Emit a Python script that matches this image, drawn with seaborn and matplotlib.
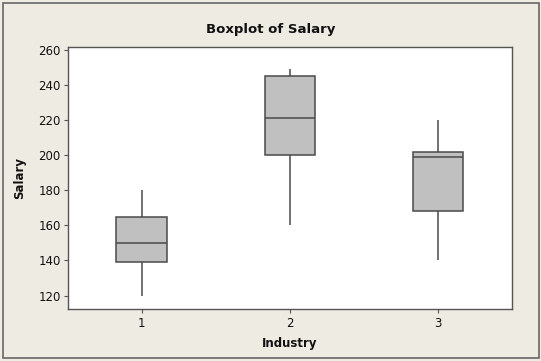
import matplotlib
matplotlib.use("Agg")
import matplotlib.pyplot as plt
import seaborn as sns
import pandas as pd
from matplotlib.patches import Rectangle

sns.set_theme(style="white")
plt.rcParams['font.family'] = ['DejaVu Sans']

# five-number summaries (min, Q1, median, Q3, max)
industries = ["1", "2", "3"]
salary_1 = [120, 139, 150, 165, 180]
salary_2 = [160, 200, 221, 245, 249]
salary_3 = [140, 168, 199, 202, 220]
y_ticks = [120, 140, 160, 180, 200, 220, 240, 260]

df = pd.DataFrame({
    "Industry": [industries[0]] * len(salary_1) + [industries[1]] * len(salary_2) + [industries[2]] * len(salary_3),
    "Salary": salary_1 + salary_2 + salary_3,
})

bg = '#EEEBE3'
edge = '#4A4A4A'

fig = plt.figure(figsize=(5.41, 3.61), dpi=100, facecolor=bg)
# thin outer frame around the whole graph
fig.patches.append(Rectangle((0.006, 0.007), 0.990, 0.984, transform=fig.transFigure,
                             fill=False, edgecolor='#666666', linewidth=1.2))
ax = fig.add_axes([0.125, 0.145, 0.821, 0.726])
ax.set_facecolor('white')

sns.boxplot(data=df, x="Industry", y="Salary", order=industries, ax=ax,
            color='#C0C0C0', saturation=1, linecolor=edge, linewidth=1.1,
            width=0.34, whis=(0, 100), showcaps=False, fliersize=0)

ax.set_xlim(-0.5, 2.5)
ax.set_ylim(112.5, 262)
ax.set_yticks(y_ticks)

for s in ax.spines.values():
    s.set_color('#555555')
    s.set_linewidth(1.0)

ax.tick_params(axis='both', direction='out', length=3, width=0.8, color='#555555',
               labelsize=8.5, labelcolor='#111111', left=True, bottom=True)
ax.tick_params(axis='y', pad=2)
ax.tick_params(axis='x', pad=3)

ax.set_xlabel("Industry", fontsize=8.5, fontweight='bold', color='#111111')
ax.set_ylabel("Salary", fontsize=8.5, fontweight='bold', color='#111111')
ax.yaxis.set_label_coords(-0.094, 0.5)
ax.xaxis.set_label_coords(0.5, -0.108)

fig.text(0.5, 0.919, "Boxplot of Salary", ha='center', va='center',
         fontsize=9.5, fontweight='bold', color='#111111')

fig.savefig("out.png", dpi=100, facecolor=fig.get_facecolor())
